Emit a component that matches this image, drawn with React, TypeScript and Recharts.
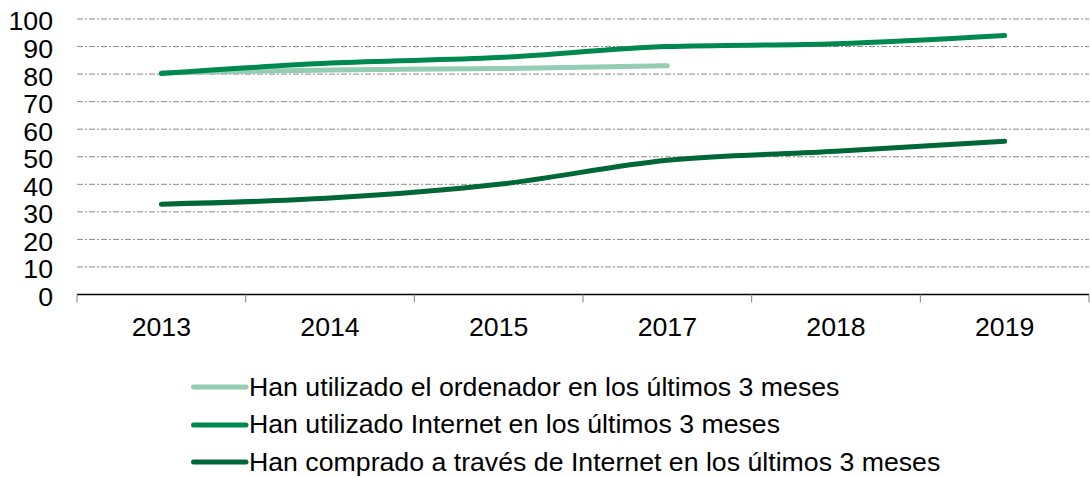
import { LineChart, Line, XAxis, YAxis, CartesianGrid, Legend } from 'recharts';

const years = ['2013', '2014', '2015', '2017', '2018', '2019'];
const ordenador = [80.5, 81.5, 82, 83, null, null];
const internet = [80.2, 84, 86, 90, 91, 94];
const comprado = [32.8, 35, 40, 48.7, 52, 55.6];
const yTicks = [0, 10, 20, 30, 40, 50, 60, 70, 80, 90, 100];

const series = [
  { key: 'ordenador', name: 'Han utilizado el ordenador en los últimos 3 meses', color: '#94CDB4' },
  { key: 'internet', name: 'Han utilizado Internet en los últimos 3 meses', color: '#00894F' },
  { key: 'comprado', name: 'Han comprado a través de Internet en los últimos 3 meses', color: '#006837' },
];

const data = years.map((year, i) => ({
  i,
  year,
  ordenador: ordenador[i],
  internet: internet[i],
  comprado: comprado[i],
}));

// label ticks on the categories, tick marks on the boundaries between them
const xTicks: number[] = [];
years.forEach((_, i) => xTicks.push(i - 0.5, i));
xTicks.push(years.length - 0.5);

const FONT = '"Liberation Sans", Arial, sans-serif';
const FS = 26.7;

function XTick(props: any) {
  const { x, y, payload } = props;
  const v = payload.value;
  if (Number.isInteger(v)) {
    return (
      <text x={x} y={y + 41} textAnchor="middle" fontSize={FS} fill="#000" fontFamily={FONT}>
        {years[v]}
      </text>
    );
  }
  return <line x1={x} y1={y} x2={x} y2={y + 8} stroke="#808080" strokeWidth={1} />;
}

function LegendBox() {
  // legend drawn in the series order (recharts would sort it by name)
  return (
    <div style={{ height: 122, paddingTop: 14, paddingLeft: 191, boxSizing: 'border-box', fontFamily: FONT }}>
      {series.map((s) => (
        <div key={s.key} style={{ height: 37.5, display: 'flex', alignItems: 'center' }}>
          <svg width={58} height={8} style={{ display: 'block', flex: 'none' }}>
            <line x1={2.5} y1={4} x2={55} y2={4} stroke={s.color} strokeWidth={5} strokeLinecap="round" />
          </svg>
          <span style={{ fontSize: FS, color: '#000', whiteSpace: 'nowrap' }}>{s.name}</span>
        </div>
      ))}
    </div>
  );
}

export default function App() {
  return (
    <div style={{ position: 'absolute', top: 0, left: 0, background: '#fff' }}>
      <LineChart width={1090} height={477} data={data} margin={{ top: 19, right: 1, bottom: 0.5, left: 0 }}>
        <CartesianGrid vertical={false} stroke="#8c8c8c" strokeDasharray="6 2 2 2" />
        <XAxis
          dataKey="i"
          type="number"
          domain={[-0.5, years.length - 0.5]}
          ticks={xTicks}
          interval={0}
          height={60}
          tickLine={false}
          tickSize={0}
          tickMargin={0}
          axisLine={{ stroke: '#000', strokeWidth: 1.5 }}
          tick={<XTick />}
        />
        <YAxis
          domain={[0, 100]}
          ticks={yTicks}
          interval={0}
          width={77}
          axisLine={false}
          tickLine={false}
          tickSize={0}
          tickMargin={24}
          tick={{ fontSize: FS, fill: '#000', fontFamily: FONT, dy: 2 }}
        />
        <Legend verticalAlign="bottom" align="center" layout="horizontal" content={<LegendBox />} />
        {series.map((s) => (
          <Line
            key={s.key}
            dataKey={s.key}
            name={s.name}
            type="monotone"
            stroke={s.color}
            strokeWidth={5}
            strokeLinecap="round"
            dot={false}
            activeDot={false}
            isAnimationActive={false}
          />
        ))}
      </LineChart>
    </div>
  );
}
